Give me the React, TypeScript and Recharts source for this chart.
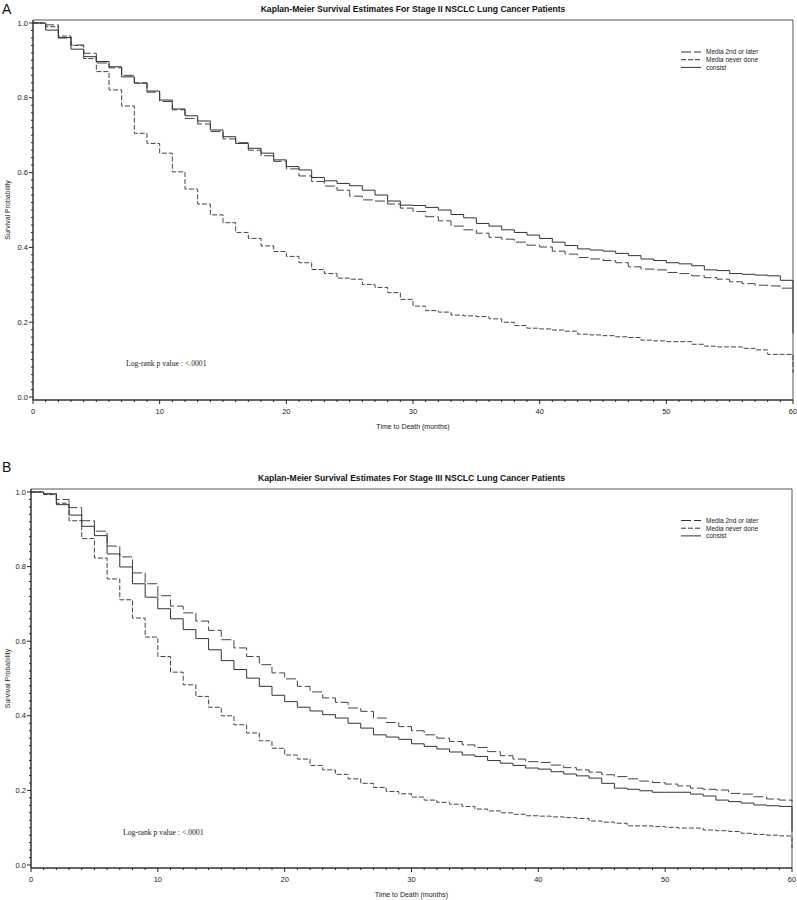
import { LineChart, Line, XAxis, YAxis, ReferenceArea } from 'recharts';

// months 0..60, one survival estimate per month
const months = Array.from({ length: 61 }, (_, i) => i);
const xTicks = months;
const yTicks = Array.from({ length: 51 }, (_, i) => i / 50);

const seriesNames = ['Media 2nd or later', 'Media never done', 'consist'];
const titleA = 'Kaplan-Meier Survival Estimates For Stage II NSCLC Lung Cancer Patients';
const titleB = 'Kaplan-Meier Survival Estimates For Stage III NSCLC Lung Cancer Patients';
const xLabel = 'Time to Death (months)';
const yLabel = 'Survival Probability';
const logRank = 'Log-rank p value : <.0001';

// Stage II
const aSecond = [
  1.0, 0.995, 0.96, 0.941, 0.919, 0.893, 0.88, 0.86, 0.84, 0.815, 0.79, 0.768, 0.745, 0.73, 0.71, 0.69,
  0.68, 0.66, 0.645, 0.63, 0.61, 0.591, 0.576, 0.564, 0.553, 0.537, 0.527, 0.524, 0.516, 0.505, 0.496,
  0.482, 0.471, 0.457, 0.447, 0.438, 0.427, 0.422, 0.414, 0.406, 0.401, 0.39, 0.382, 0.373, 0.369, 0.365,
  0.359, 0.348, 0.342, 0.34, 0.333, 0.33, 0.324, 0.319, 0.315, 0.308, 0.303, 0.299, 0.297, 0.291, 0.29,
];
const aNever = [
  1.0, 0.99, 0.965, 0.94, 0.905, 0.87, 0.821, 0.778, 0.705, 0.678, 0.652, 0.602, 0.556, 0.516, 0.487,
  0.466, 0.44, 0.424, 0.404, 0.389, 0.376, 0.359, 0.341, 0.33, 0.318, 0.315, 0.301, 0.293, 0.279, 0.261,
  0.243, 0.231, 0.227, 0.219, 0.217, 0.215, 0.209, 0.2, 0.191, 0.184, 0.182, 0.179, 0.176, 0.168, 0.166,
  0.164, 0.161, 0.159, 0.152, 0.15, 0.148, 0.148, 0.141, 0.136, 0.134, 0.134, 0.13, 0.126, 0.114, 0.114,
  0.065,
];
const aConsist = [
  1.0, 0.981, 0.961, 0.93, 0.91, 0.897, 0.883, 0.856, 0.839, 0.818, 0.794, 0.77, 0.752, 0.738, 0.714,
  0.696, 0.678, 0.665, 0.652, 0.634, 0.616, 0.607, 0.587, 0.578, 0.571, 0.565, 0.553, 0.54, 0.524, 0.513,
  0.512, 0.507, 0.5, 0.488, 0.479, 0.464, 0.457, 0.447, 0.44, 0.433, 0.424, 0.414, 0.405, 0.396, 0.393,
  0.39, 0.384, 0.378, 0.369, 0.365, 0.359, 0.356, 0.351, 0.34, 0.338, 0.33, 0.328, 0.326, 0.324, 0.312,
  0.17,
];

// Stage III
const bSecond = [
  1.0, 0.995, 0.98, 0.958, 0.923, 0.895, 0.855, 0.826, 0.783, 0.754, 0.722, 0.694, 0.676, 0.654, 0.629,
  0.604, 0.582, 0.559, 0.537, 0.515, 0.499, 0.479, 0.464, 0.448, 0.436, 0.421, 0.412, 0.394, 0.382, 0.371,
  0.36, 0.349, 0.34, 0.331, 0.322, 0.315, 0.304, 0.293, 0.284, 0.277, 0.275, 0.268, 0.261, 0.255, 0.249,
  0.242, 0.237, 0.231, 0.225, 0.221, 0.217, 0.212, 0.206, 0.203, 0.201, 0.192, 0.19, 0.183, 0.177, 0.174,
  0.17,
];
const bNever = [
  1.0, 0.993, 0.97, 0.923, 0.875, 0.823, 0.767, 0.711, 0.662, 0.611, 0.559, 0.517, 0.483, 0.452, 0.423,
  0.4, 0.376, 0.354, 0.333, 0.313, 0.295, 0.284, 0.267, 0.255, 0.243, 0.231, 0.219, 0.208, 0.197, 0.191,
  0.182, 0.174, 0.168, 0.163, 0.157, 0.15, 0.145, 0.14, 0.136, 0.132, 0.131, 0.129, 0.127, 0.125, 0.118,
  0.115, 0.112, 0.105, 0.105, 0.103, 0.101, 0.099, 0.099, 0.094, 0.092, 0.09, 0.085, 0.082, 0.08, 0.078,
  0.045,
];
const bConsist = [
  1.0, 0.995, 0.966, 0.938, 0.908, 0.883, 0.834, 0.799, 0.754, 0.718, 0.687, 0.66, 0.631, 0.607, 0.577,
  0.548, 0.524, 0.501, 0.479, 0.455, 0.438, 0.423, 0.413, 0.403, 0.394, 0.38, 0.367, 0.349, 0.343, 0.337,
  0.325, 0.318, 0.311, 0.303, 0.295, 0.291, 0.28, 0.273, 0.267, 0.26, 0.257, 0.25, 0.244, 0.239, 0.233,
  0.219, 0.206, 0.203, 0.199, 0.195, 0.195, 0.195, 0.19, 0.185, 0.174, 0.17, 0.166, 0.161, 0.159, 0.157,
  0.09,
];

const dashes = ['10 3', '5 2', undefined];
const sans = 'Arial, "Liberation Sans", sans-serif';

const XTick = (props: any) => {
  const { x, y, payload } = props;
  const major = payload.value % 10 === 0;
  return (
    <g>
      <line x1={x} x2={x} y1={y} y2={y + (major ? 4 : 2)} stroke="#222" />
      {major && (
        <text x={x} y={y + 14} textAnchor="middle" fontSize={7.5} fontFamily={sans} fill="#222">
          {payload.value}
        </text>
      )}
    </g>
  );
};

const YTick = (props: any) => {
  const { x, y, payload } = props;
  const major = Math.round(payload.value * 50) % 10 === 0;
  return (
    <g>
      <line x1={x} x2={x - (major ? 4 : 2)} y1={y} y2={y} stroke="#222" />
      {major && (
        <text x={x - 5} y={y + 2.6} textAnchor="end" fontSize={7.5} fontFamily={sans} fill="#222">
          {payload.value.toFixed(1)}
        </text>
      )}
    </g>
  );
};

type PanelProps = {
  letter: string;
  title: string;
  second: number[];
  never: number[];
  consist: number[];
  top: number;
  plotTop: number;
  plotBottom: number;
  plotLeft: number;
  plotRight: number;
  letterY: number;
  titleY: number;
  legendY: number;
  logX: number;
  logY: number;
};

function Panel(p: PanelProps) {
  const rows = months.map((m, i) => ({
    month: m,
    second: p.second[i],
    never: p.never[i],
    consist: p.consist[i],
  }));
  const yDomain = [-0.008, 1.008];
  const midX = (p.plotLeft + p.plotRight) / 2;
  const midY = (p.plotTop + p.plotBottom) / 2;
  return (
    <div style={{ position: 'absolute', left: 0, top: p.top, width: 797, height: 450 }}>
      <LineChart
        width={797}
        height={450}
        data={rows}
        margin={{ top: p.plotTop, right: 797 - p.plotRight, bottom: 450 - p.plotBottom - 30, left: 0 }}
      >
        <XAxis
          dataKey="month"
          type="number"
          domain={[0, 60]}
          ticks={xTicks}
          interval={0}
          tick={<XTick />}
          tickSize={0}
          tickMargin={0}
          tickLine={false}
          axisLine={{ stroke: '#222' }}
          height={30}
        />
        <YAxis
          type="number"
          domain={yDomain}
          ticks={yTicks}
          interval={0}
          tick={<YTick />}
          tickSize={0}
          tickMargin={0}
          tickLine={false}
          axisLine={{ stroke: '#222' }}
          width={p.plotLeft}
          allowDataOverflow
        />
        <ReferenceArea x1={0} x2={60} y1={yDomain[0]} y2={yDomain[1]} fill="none" stroke="#555" />
        <Line type="stepAfter" dataKey="second" stroke="#444" strokeDasharray={dashes[0]} dot={false} isAnimationActive={false} />
        <Line type="stepAfter" dataKey="never" stroke="#444" strokeDasharray={dashes[1]} dot={false} isAnimationActive={false} />
        <Line type="stepAfter" dataKey="consist" stroke="#333" dot={false} isAnimationActive={false} />
      </LineChart>
      <svg width={797} height={450} style={{ position: 'absolute', left: 0, top: 0, pointerEvents: 'none' }}>
        <text x={2} y={p.letterY} fontSize={14} fontFamily={sans} fill="#111">
          {p.letter}
        </text>
        <text x={midX} y={p.titleY} textAnchor="middle" fontSize={8.6} fontWeight="bold" fontFamily={sans} fill="#111">
          {p.title}
        </text>
        {seriesNames.map((name, i) => (
          <g key={name}>
            <line
              x1={681}
              x2={701}
              y1={p.legendY + i * 7.7}
              y2={p.legendY + i * 7.7}
              stroke="#333"
              strokeDasharray={dashes[i]}
            />
            <text x={706} y={p.legendY + i * 7.7 + 2.3} fontSize={6.5} fontFamily={sans} fill="#222">
              {name}
            </text>
          </g>
        ))}
        <text x={p.logX} y={p.logY} fontSize={7.7} fontFamily='"Liberation Serif", "Times New Roman", serif' fill="#222">
          {logRank}
        </text>
        <text x={midX} y={p.plotBottom + 29} textAnchor="middle" fontSize={7} fontFamily={sans} fill="#222">
          {xLabel}
        </text>
        <text
          x={10}
          y={midY}
          textAnchor="middle"
          fontSize={7}
          fontFamily={sans}
          fill="#222"
          transform={`rotate(-90 10 ${midY})`}
        >
          {yLabel}
        </text>
      </svg>
    </div>
  );
}

export default function App() {
  return (
    <div style={{ position: 'absolute', left: 0, top: 0, width: 797, height: 900, background: '#fff' }}>
      <Panel
        letter="A"
        title={titleA}
        second={aSecond}
        never={aNever}
        consist={aConsist}
        top={0}
        plotTop={20}
        plotBottom={400}
        plotLeft={33}
        plotRight={793}
        letterY={14}
        titleY={12}
        legendY={52}
        logX={126}
        logY={365.5}
      />
      <Panel
        letter="B"
        title={titleB}
        second={bSecond}
        never={bNever}
        consist={bConsist}
        top={450}
        plotTop={39}
        plotBottom={418}
        plotLeft={31}
        plotRight={792}
        letterY={22}
        titleY={31}
        legendY={70.5}
        logX={123}
        logY={385}
      />
    </div>
  );
}
